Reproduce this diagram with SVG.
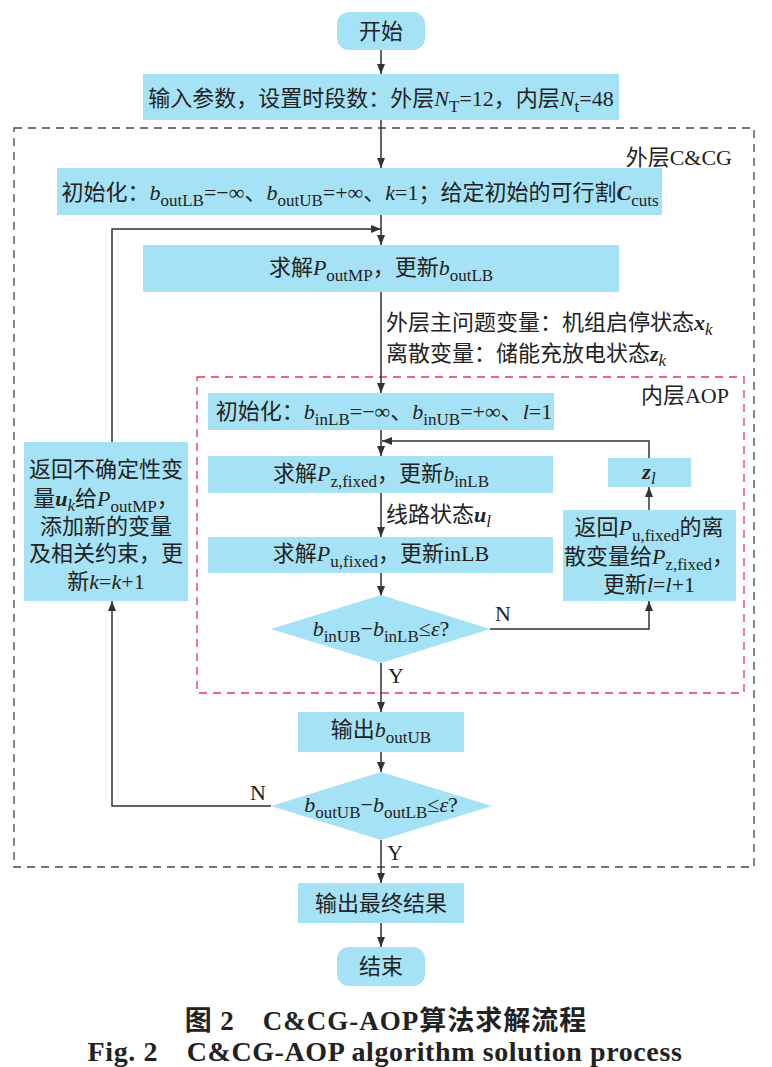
<svg xmlns="http://www.w3.org/2000/svg" width="772" height="1067" viewBox="0 0 772 1067">
<defs>
<marker id="arr" markerUnits="userSpaceOnUse" markerWidth="10" markerHeight="8" refX="10" refY="4" orient="auto">
<path d="M0,0 L10,4 L0,8 z" fill="#333"/>
</marker>
<style>
.box{fill:#a6e2f5;stroke:none}
.t{font-family:"Liberation Serif","Noto Sans CJK SC",serif;font-size:22px;fill:#222}
.c{text-anchor:middle}
.s{font-size:17px}
.i{font-style:italic}
.bi{font-style:italic;font-weight:bold}
.ln{fill:none;stroke:#333;stroke-width:1.5}
.cap{font-family:"Liberation Serif","Noto Sans CJK SC",serif;font-weight:bold;fill:#222;text-anchor:middle}
</style>
</defs>
<rect width="772" height="1067" fill="#fff"/>

<g id="frames">
<rect x="14" y="128" width="740" height="739" fill="none" stroke="#444" stroke-width="1.3" stroke-dasharray="8,6"/>
<rect x="197" y="377" width="547" height="316" fill="none" stroke="#e8364e" stroke-width="1.3" stroke-dasharray="8,6"/>
<text class="t" x="732" y="165" text-anchor="end">外层C&amp;CG</text>
<text class="t" x="729" y="403" text-anchor="end">内层AOP</text>
</g>

<g id="connectors">
<line class="ln" x1="381" y1="50" x2="381" y2="74" marker-end="url(#arr)"/>
<line class="ln" x1="381" y1="120" x2="381" y2="168" marker-end="url(#arr)"/>
<line class="ln" x1="381" y1="215" x2="381" y2="245" marker-end="url(#arr)"/>
<polyline class="ln" points="112,442 112,229 381,229" marker-end="url(#arr)"/>
<line class="ln" x1="381" y1="292" x2="381" y2="393" marker-end="url(#arr)"/>
<line class="ln" x1="381" y1="430" x2="381" y2="456" marker-end="url(#arr)"/>
<polyline class="ln" points="649,458 649,441 382,441" marker-end="url(#arr)"/>
<line class="ln" x1="381" y1="493" x2="381" y2="537" marker-end="url(#arr)"/>
<line class="ln" x1="381" y1="573" x2="381" y2="596" marker-end="url(#arr)"/>
<polyline class="ln" points="490,629 649,629 649,601" marker-end="url(#arr)"/>
<line class="ln" x1="649" y1="510" x2="649" y2="487" marker-end="url(#arr)"/>
<line class="ln" x1="381" y1="663" x2="381" y2="712" marker-end="url(#arr)"/>
<line class="ln" x1="381" y1="752" x2="381" y2="772" marker-end="url(#arr)"/>
<polyline class="ln" points="271,806 112,806 112,601" marker-end="url(#arr)"/>
<line class="ln" x1="381" y1="840" x2="381" y2="883" marker-end="url(#arr)"/>
<line class="ln" x1="381" y1="923" x2="381" y2="947" marker-end="url(#arr)"/>
<text class="t" x="386" y="330">外层主问题变量：机组启停状态<tspan class="bi">x</tspan><tspan class="s i" dy="5">k</tspan></text>
<text class="t" x="386" y="361">离散变量：储能充放电状态<tspan class="bi">z</tspan><tspan class="s i" dy="5">k</tspan></text>
<text class="t" x="386" y="522">线路状态<tspan class="bi">u</tspan><tspan class="s i" dy="5">l</tspan></text>
<text class="t" x="495" y="621">N</text>
<text class="t" x="388" y="683">Y</text>
<text class="t" x="250" y="800">N</text>
<text class="t" x="387" y="860">Y</text>
</g>

<g id="start">
<rect class="box" x="337" y="12" width="88" height="38" rx="12"/>
<text class="t c" x="381" y="39">开始</text>
</g>

<g id="input">
<rect class="box" x="143" y="74" width="476" height="46"/>
<text class="t c" x="381" y="106">输入参数，设置时段数：外层<tspan class="i">N</tspan><tspan class="s" dy="6">T</tspan><tspan dy="-6">=12，内层</tspan><tspan class="i">N</tspan><tspan class="s" dy="6">t</tspan><tspan dy="-6">=48</tspan></text>
</g>

<g id="init-outer">
<rect class="box" x="57" y="168" width="605" height="47"/>
<text class="t c" x="360" y="200">初始化：<tspan class="i">b</tspan><tspan class="s" dy="6">outLB</tspan><tspan dy="-6">=−∞、</tspan><tspan class="i">b</tspan><tspan class="s" dy="6">outUB</tspan><tspan dy="-6">=+∞、</tspan><tspan class="i">k</tspan>=1；给定初始的可行割<tspan class="bi">C</tspan><tspan class="s" dy="6">cuts</tspan></text>
</g>

<g id="solve-master">
<rect class="box" x="143" y="245" width="476" height="47"/>
<text class="t c" x="381" y="275">求解<tspan class="i">P</tspan><tspan class="s" dy="6">outMP</tspan><tspan dy="-6">，更新</tspan><tspan class="i">b</tspan><tspan class="s" dy="6">outLB</tspan></text>
</g>

<g id="init-inner">
<rect class="box" x="208" y="393" width="346" height="37"/>
<text class="t c" x="384" y="419">初始化：<tspan class="i">b</tspan><tspan class="s" dy="6">inLB</tspan><tspan dy="-6">=−∞、</tspan><tspan class="i">b</tspan><tspan class="s" dy="6">inUB</tspan><tspan dy="-6">=+∞、</tspan><tspan class="i">l</tspan>=1</text>
</g>

<g id="solve-z">
<rect class="box" x="208" y="456" width="345" height="37"/>
<text class="t c" x="381" y="481">求解<tspan class="i">P</tspan><tspan class="s" dy="6">z,fixed</tspan><tspan dy="-6">，更新</tspan><tspan class="i">b</tspan><tspan class="s" dy="6">inLB</tspan></text>
</g>

<g id="solve-u">
<rect class="box" x="208" y="537" width="345" height="36"/>
<text class="t c" x="381" y="561">求解<tspan class="i">P</tspan><tspan class="s" dy="6">u,fixed</tspan><tspan dy="-6">，更新inLB</tspan></text>
</g>

<g id="check-inner">
<polygon class="box" points="271,629 381,595 490,629 381,663"/>
<text class="t c" x="381" y="636"><tspan class="i">b</tspan><tspan class="s" dy="6">inUB</tspan><tspan dy="-6">−</tspan><tspan class="i">b</tspan><tspan class="s" dy="6">inLB</tspan><tspan dy="-6">≤</tspan><tspan class="i">ε</tspan>?</text>
</g>

<g id="return-discrete">
<rect class="box" x="563" y="510" width="173" height="91"/>
<text class="t c" x="649" y="535">返回<tspan class="i">P</tspan><tspan class="s" dy="6">u,fixed</tspan><tspan dy="-6">的离</tspan></text>
<text class="t c" x="649" y="564">散变量给<tspan class="i">P</tspan><tspan class="s" dy="6">z,fixed</tspan><tspan dy="-6">，</tspan></text>
<text class="t c" x="649" y="592">更新<tspan class="i">l</tspan>=<tspan class="i">l</tspan>+1</text>
</g>

<g id="zl">
<rect class="box" x="608" y="458" width="83" height="29"/>
<text class="t c" x="649" y="479"><tspan class="bi">z</tspan><tspan class="s i" dy="5">l</tspan></text>
</g>

<g id="return-uncertain">
<rect class="box" x="24" y="442" width="164" height="159"/>
<text class="t c" x="106" y="477">返回不确定性变</text>
<text class="t c" x="106" y="506">量<tspan class="bi">u</tspan><tspan class="s i" dy="5">k</tspan><tspan dy="-5">给</tspan><tspan class="i">P</tspan><tspan class="s" dy="6">outMP</tspan><tspan dy="-6">，</tspan></text>
<text class="t c" x="106" y="534">添加新的变量</text>
<text class="t c" x="106" y="561">及相关约束，更</text>
<text class="t c" x="106" y="589">新<tspan class="i">k</tspan>=<tspan class="i">k</tspan>+1</text>
</g>

<g id="output-ub">
<rect class="box" x="298" y="712" width="166" height="40"/>
<text class="t c" x="381" y="737">输出<tspan class="i">b</tspan><tspan class="s" dy="6">outUB</tspan></text>
</g>

<g id="check-outer">
<polygon class="box" points="271,806 381,772 492,806 381,840"/>
<text class="t c" x="381" y="812"><tspan class="i">b</tspan><tspan class="s" dy="6">outUB</tspan><tspan dy="-6">−</tspan><tspan class="i">b</tspan><tspan class="s" dy="6">outLB</tspan><tspan dy="-6">≤</tspan><tspan class="i">ε</tspan>?</text>
</g>

<g id="final">
<rect class="box" x="298" y="883" width="166" height="40"/>
<text class="t c" x="381" y="911">输出最终结果</text>
</g>

<g id="end">
<rect class="box" x="337" y="947" width="88" height="39" rx="12"/>
<text class="t c" x="381" y="974">结束</text>
</g>

<g id="caption">
<text class="cap" x="386" y="1030" font-size="27" letter-spacing="1">图 2　C&amp;CG-AOP算法求解流程</text>
<text class="cap" x="385" y="1061" font-size="28" letter-spacing="0.6">Fig. 2　C&amp;CG-AOP algorithm solution process</text>
</g>
</svg>
